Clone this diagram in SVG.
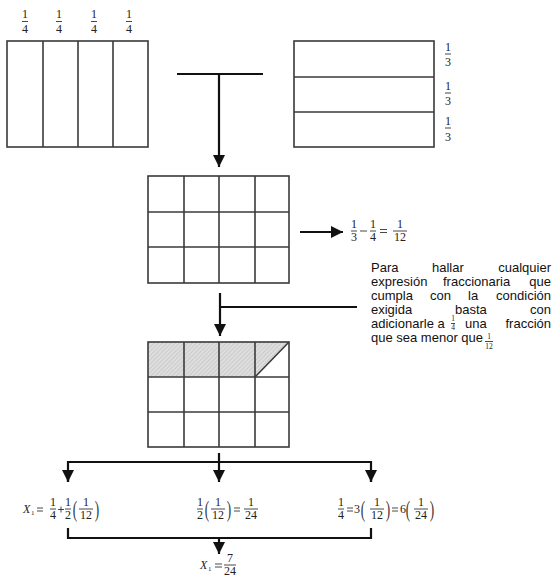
<svg xmlns="http://www.w3.org/2000/svg" width="552" height="577" viewBox="0 0 552 577">
<style>
.grid{fill:none;stroke:#3a3a3a;stroke-width:1.6}
.con{fill:none;stroke:#111;stroke-width:2.2}
.m{font-family:"Liberation Serif","Times New Roman",serif;font-size:12px;fill:#222;text-anchor:middle}
.ms{font-family:"Liberation Serif","Times New Roman",serif;font-size:7.5px;fill:#222;text-anchor:middle}
.fb{stroke:#333;stroke-width:0.9}
.p{font-family:"Liberation Sans",Arial,sans-serif;font-size:13px;fill:#111}
.pe{font-family:"Liberation Sans",Arial,sans-serif;font-size:13px;fill:#111;text-anchor:end}
.par{font-family:"Liberation Serif","Times New Roman",serif;font-size:24px;fill:#333;text-anchor:middle}
</style>
<defs>
<marker id="arr" markerUnits="userSpaceOnUse" markerWidth="12" markerHeight="14" refX="12" refY="6" orient="auto">
<path d="M0,0 L12,6 L0,12 Z" fill="#111"/>
</marker>
<pattern id="hatch" patternUnits="userSpaceOnUse" width="3" height="3" patternTransform="rotate(45)">
<rect width="3" height="3" fill="#dedede"/>
<line x1="0" y1="0" x2="0" y2="3" stroke="#b8b8b8" stroke-width="1"/>
</pattern>
</defs>

<g id="quarters">
<rect class="grid" x="7" y="41" width="141" height="106"/>
<line class="grid" x1="43" y1="41" x2="43" y2="147"/>
<line class="grid" x1="78" y1="41" x2="78" y2="147"/>
<line class="grid" x1="113" y1="41" x2="113" y2="147"/>
<text class="m" x="25" y="18">1</text><line class="fb" x1="22" y1="21.5" x2="28" y2="21.5"/><text class="m" x="25" y="33">4</text>
<text class="m" x="59" y="18">1</text><line class="fb" x1="56" y1="21.5" x2="62" y2="21.5"/><text class="m" x="59" y="33">4</text>
<text class="m" x="94" y="18">1</text><line class="fb" x1="91" y1="21.5" x2="97" y2="21.5"/><text class="m" x="94" y="33">4</text>
<text class="m" x="129" y="18">1</text><line class="fb" x1="126" y1="21.5" x2="132" y2="21.5"/><text class="m" x="129" y="33">4</text>
</g>

<g id="thirds">
<rect class="grid" x="294" y="41" width="140" height="106"/>
<line class="grid" x1="294" y1="77" x2="434" y2="77"/>
<line class="grid" x1="294" y1="112" x2="434" y2="112"/>
<text class="m" x="448" y="51">1</text><line class="fb" x1="445" y1="54" x2="451" y2="54"/><text class="m" x="448" y="66">3</text>
<text class="m" x="448" y="90">1</text><line class="fb" x1="445" y1="93" x2="451" y2="93"/><text class="m" x="448" y="105">3</text>
<text class="m" x="448" y="125">1</text><line class="fb" x1="445" y1="128" x2="451" y2="128"/><text class="m" x="448" y="141">3</text>
</g>

<g id="twelfths">
<rect class="grid" x="148" y="176" width="141" height="107"/>
<line class="grid" x1="184" y1="176" x2="184" y2="283"/>
<line class="grid" x1="219" y1="176" x2="219" y2="283"/>
<line class="grid" x1="255" y1="176" x2="255" y2="283"/>
<line class="grid" x1="148" y1="212" x2="289" y2="212"/>
<line class="grid" x1="148" y1="247" x2="289" y2="247"/>
</g>

<g id="difference">
<text class="m" x="354" y="228">1</text><line class="fb" x1="351" y1="231" x2="357" y2="231"/><text class="m" x="354" y="241">3</text>
<line class="fb" x1="360" y1="231" x2="367" y2="231"/>
<text class="m" x="373" y="228">1</text><line class="fb" x1="370" y1="231" x2="376" y2="231"/><text class="m" x="373" y="241">4</text>
<line class="fb" x1="380" y1="229.5" x2="387" y2="229.5"/><line class="fb" x1="380" y1="232.5" x2="387" y2="232.5"/>
<text class="m" x="400" y="228">1</text><line class="fb" x1="393" y1="231" x2="407" y2="231"/><text class="m" x="400" y="241">12</text>
</g>

<g id="note">
<text class="p" x="371" y="272">Para</text>
<text class="p" x="432" y="272">hallar</text>
<text class="pe" x="551" y="272">cualquier</text>
<text class="p" x="371" y="286">expresión</text>
<text class="p" x="443" y="286">fraccionaria</text>
<text class="pe" x="551" y="286">que</text>
<text class="p" x="371" y="300">cumpla</text>
<text class="p" x="430" y="300">con</text>
<text class="p" x="468" y="300">la</text>
<text class="pe" x="551" y="300">condición</text>
<text class="p" x="371" y="314">exigida</text>
<text class="p" x="455" y="314">basta</text>
<text class="pe" x="551" y="314">con</text>
<text class="p" x="371" y="328">adicionarle a</text>
<text class="ms" x="453" y="321">1</text><line class="fb" x1="451" y1="323.5" x2="455" y2="323.5"/><text class="ms" x="453" y="329.5">4</text>
<text class="p" x="465" y="328">una</text>
<text class="pe" x="551" y="328">fracción</text>
<text class="p" x="371" y="342">que sea menor que</text>
<text class="ms" x="489" y="339">1</text><line class="fb" x1="485" y1="341.5" x2="493" y2="341.5"/><text class="ms" x="489" y="349">12</text>
</g>

<g id="shaded">
<rect x="148" y="342" width="107" height="35" fill="url(#hatch)"/>
<polygon points="255,342 289,342 255,377" fill="url(#hatch)"/>
<rect class="grid" x="148" y="342" width="141" height="105"/>
<line class="grid" x1="184" y1="342" x2="184" y2="447"/>
<line class="grid" x1="219" y1="342" x2="219" y2="447"/>
<line class="grid" x1="255" y1="342" x2="255" y2="447"/>
<line class="grid" x1="148" y1="377" x2="289" y2="377"/>
<line class="grid" x1="148" y1="412" x2="289" y2="412"/>
<line class="grid" x1="255" y1="377" x2="289" y2="342"/>
</g>

<g id="expr-left">
<text x="23" y="513" font-family="Liberation Serif, serif" font-style="italic" font-size="12" fill="#222">X</text>
<text x="31" y="515" font-family="Liberation Serif, serif" font-size="7" fill="#222">1</text>
<line class="fb" x1="37" y1="508" x2="43" y2="508"/><line class="fb" x1="37" y1="511" x2="43" y2="511"/>
<text class="m" x="53" y="506">1</text><line class="fb" x1="50" y1="509" x2="56" y2="509"/><text class="m" x="53" y="519">4</text>
<line class="fb" x1="58" y1="509.5" x2="64" y2="509.5"/><line class="fb" x1="61" y1="506.5" x2="61" y2="512.5"/>
<text class="m" x="68" y="506">1</text><line class="fb" x1="65" y1="509" x2="71" y2="509"/><text class="m" x="68" y="519">2</text>
<text class="par" transform="translate(75,517) scale(0.55,1)">(</text>
<text class="m" x="86" y="506">1</text><line class="fb" x1="79" y1="509" x2="93" y2="509"/><text class="m" x="86" y="519">12</text>
<text class="par" transform="translate(97,517) scale(0.55,1)">)</text>
</g>

<g id="expr-mid">
<text class="m" x="200" y="506">1</text><line class="fb" x1="197" y1="509" x2="203" y2="509"/><text class="m" x="200" y="519">2</text>
<text class="par" transform="translate(207,517) scale(0.55,1)">(</text>
<text class="m" x="218" y="506">1</text><line class="fb" x1="211" y1="509" x2="225" y2="509"/><text class="m" x="218" y="519">12</text>
<text class="par" transform="translate(229,517) scale(0.55,1)">)</text>
<line class="fb" x1="234" y1="508" x2="240" y2="508"/><line class="fb" x1="234" y1="511" x2="240" y2="511"/>
<text class="m" x="251" y="506">1</text><line class="fb" x1="244" y1="509" x2="258" y2="509"/><text class="m" x="251" y="519">24</text>
</g>

<g id="expr-right">
<text class="m" x="341" y="506">1</text><line class="fb" x1="338" y1="509" x2="344" y2="509"/><text class="m" x="341" y="519">4</text>
<line class="fb" x1="347" y1="508" x2="353" y2="508"/><line class="fb" x1="347" y1="511" x2="353" y2="511"/>
<text class="m" x="357" y="513">3</text>
<text class="par" transform="translate(363,517) scale(0.55,1)">(</text>
<text class="m" x="377" y="506">1</text><line class="fb" x1="370" y1="509" x2="384" y2="509"/><text class="m" x="377" y="519">12</text>
<text class="par" transform="translate(388,517) scale(0.55,1)">)</text>
<line class="fb" x1="392" y1="508" x2="398" y2="508"/><line class="fb" x1="392" y1="511" x2="398" y2="511"/>
<text class="m" x="403" y="513">6</text>
<text class="par" transform="translate(408,517) scale(0.55,1)">(</text>
<text class="m" x="421" y="506">1</text><line class="fb" x1="414" y1="509" x2="428" y2="509"/><text class="m" x="421" y="519">24</text>
<text class="par" transform="translate(432,517) scale(0.55,1)">)</text>
</g>

<g id="result">
<text x="200" y="569" font-family="Liberation Serif, serif" font-style="italic" font-size="12" fill="#222">X</text>
<text x="208" y="571" font-family="Liberation Serif, serif" font-size="7" fill="#222">1</text>
<line class="fb" x1="215" y1="564" x2="222" y2="564"/><line class="fb" x1="215" y1="567" x2="222" y2="567"/>
<text class="m" x="230" y="562">7</text><line class="fb" x1="224" y1="565" x2="236" y2="565"/><text class="m" x="230" y="575">24</text>
</g>

<g id="connectors">
<polyline class="con" points="177,74 263,74"/>
<line class="con" x1="219" y1="74" x2="219" y2="167" marker-end="url(#arr)"/>
<line class="con" x1="300" y1="232" x2="343" y2="232" marker-end="url(#arr)"/>
<polyline class="con" points="357,307 220,307"/>
<line class="con" x1="220" y1="293" x2="220" y2="336" marker-end="url(#arr)"/>
<line class="con" x1="219" y1="453" x2="219" y2="482" marker-end="url(#arr)"/>
<polyline class="con" points="68,482 68,462 371,462 371,482"/>
<line class="con" x1="68" y1="470" x2="68" y2="482" marker-end="url(#arr)"/>
<line class="con" x1="371" y1="470" x2="371" y2="482" marker-end="url(#arr)"/>
<polyline class="con" points="68,528 68,538 371,538 371,528"/>
<line class="con" x1="219" y1="538" x2="219" y2="554" marker-end="url(#arr)"/>
</g>
</svg>
